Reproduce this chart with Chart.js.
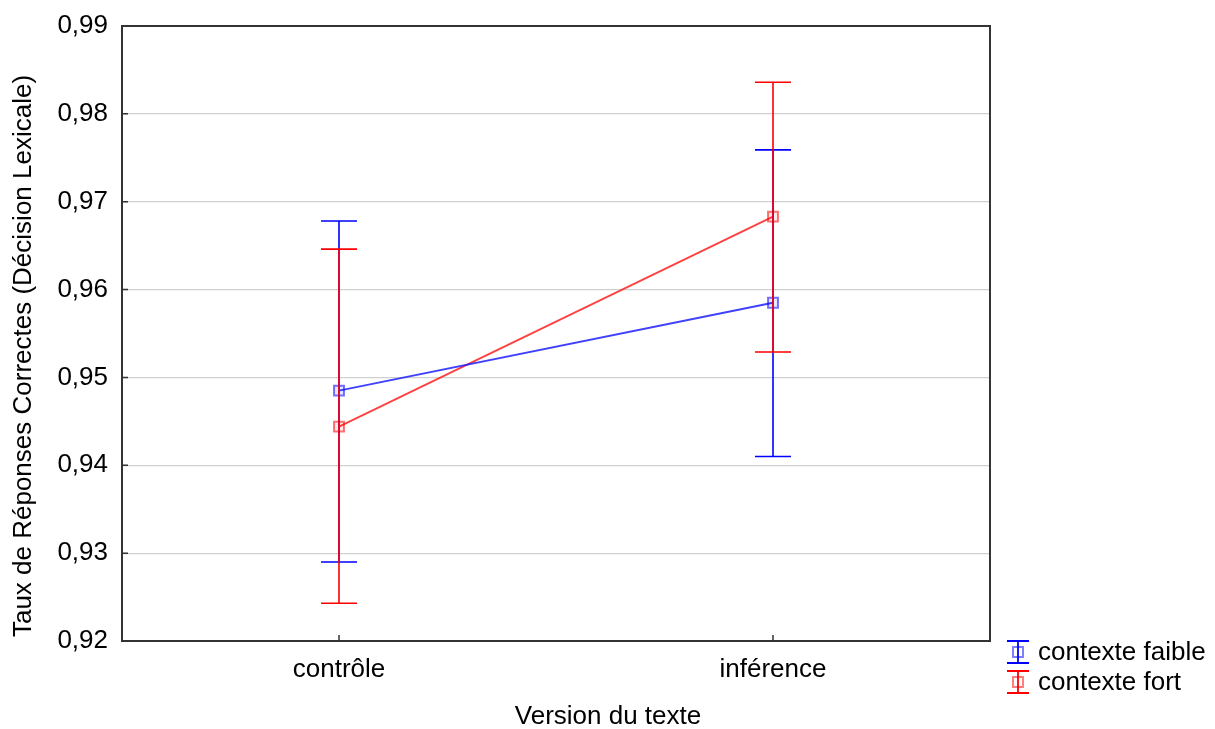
<!DOCTYPE html>
<html>
<head>
<meta charset="utf-8">
<script src="https://cdn.jsdelivr.net/npm/chart.js@4/dist/chart.umd.min.js"></script>
<style>
html,body{margin:0;padding:0;background:#fff;}
#wrap{width:1215px;height:729px;}
</style>
</head>
<body>
<div id="wrap"><canvas id="c" width="1215" height="729"></canvas></div>
<script>
const categories = ['contrôle', 'inférence'];
const faibleMean = [0.9485, 0.9585];
const faibleLow  = [0.9290, 0.9410];
const faibleHigh = [0.9678, 0.9759];
const fortMean = [0.9444, 0.9683];
const fortLow  = [0.9243, 0.9529];
const fortHigh = [0.9646, 0.9836];
const yTicks = [0.92, 0.93, 0.94, 0.95, 0.96, 0.97, 0.98, 0.99];
const seriesNames = ['contexte faible', 'contexte fort'];

const FONT = '"Liberation Sans", Arial, sans-serif';
const FS = 26;
const BLUE = '#0000ff';
const RED = '#ff0000';

const errorBars = [
  {low: faibleLow, high: faibleHigh, color: BLUE},
  {low: fortLow, high: fortHigh, color: RED}
];

const customPlugin = {
  id: 'custom',
  afterDatasetsDraw(chart) {
    const ctx = chart.ctx;
    const xs = chart.scales.x, ys = chart.scales.y;
    ctx.save();
    errorBars.forEach(eb => {
      ctx.strokeStyle = eb.color;
      ctx.lineWidth = 1.6;
      for (let i = 0; i < categories.length; i++) {
        const x = xs.getPixelForValue(i);
        const yl = ys.getPixelForValue(eb.low[i]);
        const yh = ys.getPixelForValue(eb.high[i]);
        ctx.beginPath();
        ctx.moveTo(x, yl); ctx.lineTo(x, yh);
        ctx.moveTo(x - 18, yl); ctx.lineTo(x + 18, yl);
        ctx.moveTo(x - 18, yh); ctx.lineTo(x + 18, yh);
        ctx.stroke();
      }
    });
    ctx.restore();
  },
  afterDraw(chart) {
    const ctx = chart.ctx;
    const a = chart.chartArea;
    const xs = chart.scales.x, ys = chart.scales.y;
    ctx.save();
    // frame
    ctx.strokeStyle = '#333';
    ctx.lineWidth = 2;
    ctx.strokeRect(a.left, a.top, a.right - a.left, a.bottom - a.top);
    // inner ticks
    ctx.lineWidth = 1.5;
    ctx.beginPath();
    yTicks.forEach(v => {
      const y = ys.getPixelForValue(v);
      ctx.moveTo(a.left, y); ctx.lineTo(a.left + 6, y);
    });
    for (let i = 0; i < categories.length; i++) {
      const x = xs.getPixelForValue(i);
      ctx.moveTo(x, a.bottom); ctx.lineTo(x, a.bottom - 6);
    }
    ctx.stroke();
    // axis titles
    ctx.fillStyle = '#000';
    ctx.font = FS + 'px ' + FONT;
    ctx.textAlign = 'center';
    ctx.textBaseline = 'middle';
    ctx.fillText('Version du texte', 608, 717);
    ctx.save();
    ctx.translate(24, 356);
    ctx.rotate(-Math.PI / 2);
    ctx.fillText('Taux de Réponses Correctes (Décision Lexicale)', 0, 0);
    ctx.restore();
    // legend
    const rows = [{y: 652, color: BLUE, name: seriesNames[0]}, {y: 682, color: RED, name: seriesNames[1]}];
    rows.forEach(r => {
      const cx = 1018;
      ctx.strokeStyle = r.color;
      ctx.lineWidth = 1.8;
      ctx.beginPath();
      ctx.moveTo(cx, r.y - 11); ctx.lineTo(cx, r.y + 11);
      ctx.moveTo(cx - 11, r.y - 11); ctx.lineTo(cx + 11, r.y - 11);
      ctx.moveTo(cx - 11, r.y + 11); ctx.lineTo(cx + 11, r.y + 11);
      ctx.stroke();
      ctx.globalAlpha = 0.5;
      ctx.lineWidth = 2;
      ctx.strokeRect(cx - 5, r.y - 5, 10, 10);
      ctx.globalAlpha = 1;
      ctx.fillStyle = '#000';
      ctx.textAlign = 'left';
      ctx.textBaseline = 'middle';
      ctx.fillText(r.name, 1038, r.y + 1);
    });
    ctx.restore();
  }
};

new Chart(document.getElementById('c'), {
  type: 'line',
  data: {
    labels: categories,
    datasets: [
      {
        label: seriesNames[0], data: faibleMean,
        borderColor: 'rgba(30,30,255,0.85)', borderWidth: 1.8,
        pointStyle: 'rect', pointRadius: 7,
        pointBorderColor: 'rgba(0,0,255,0.55)', pointBackgroundColor: 'rgba(0,0,255,0.08)',
        pointBorderWidth: 2, tension: 0
      },
      {
        label: seriesNames[1], data: fortMean,
        borderColor: 'rgba(255,30,30,0.85)', borderWidth: 1.8,
        pointStyle: 'rect', pointRadius: 7,
        pointBorderColor: 'rgba(255,0,0,0.55)', pointBackgroundColor: 'rgba(255,0,0,0.08)',
        pointBorderWidth: 2, tension: 0
      }
    ]
  },
  options: {
    responsive: false,
    animation: false,
    layout: {padding: {left: 0, top: 26, right: 225, bottom: 0}},
    plugins: {legend: {display: false}, tooltip: {enabled: false}},
    scales: {
      x: {
        type: 'category', offset: true,
        grid: {display: false, drawTicks: false},
        border: {display: false},
        ticks: {color: '#000', font: {family: FONT, size: FS}, padding: 13},
        afterFit(s) { s.height = 88; s.paddingLeft = 0; s.paddingRight = 0; }
      },
      y: {
        min: 0.92, max: 0.99,
        afterBuildTicks(s) { s.ticks = yTicks.map(v => ({value: v})); },
        grid: {color: '#d0d0d0', lineWidth: 1.2, drawTicks: false},
        border: {display: false},
        ticks: {
          color: '#000', font: {family: FONT, size: FS}, padding: 14,
          callback: v => v.toFixed(2).replace('.', ',')
        },
        afterFit(s) { s.width = 122; s.paddingTop = 0; s.paddingBottom = 0; }
      }
    }
  },
  plugins: [customPlugin]
});
</script>
</body>
</html>
